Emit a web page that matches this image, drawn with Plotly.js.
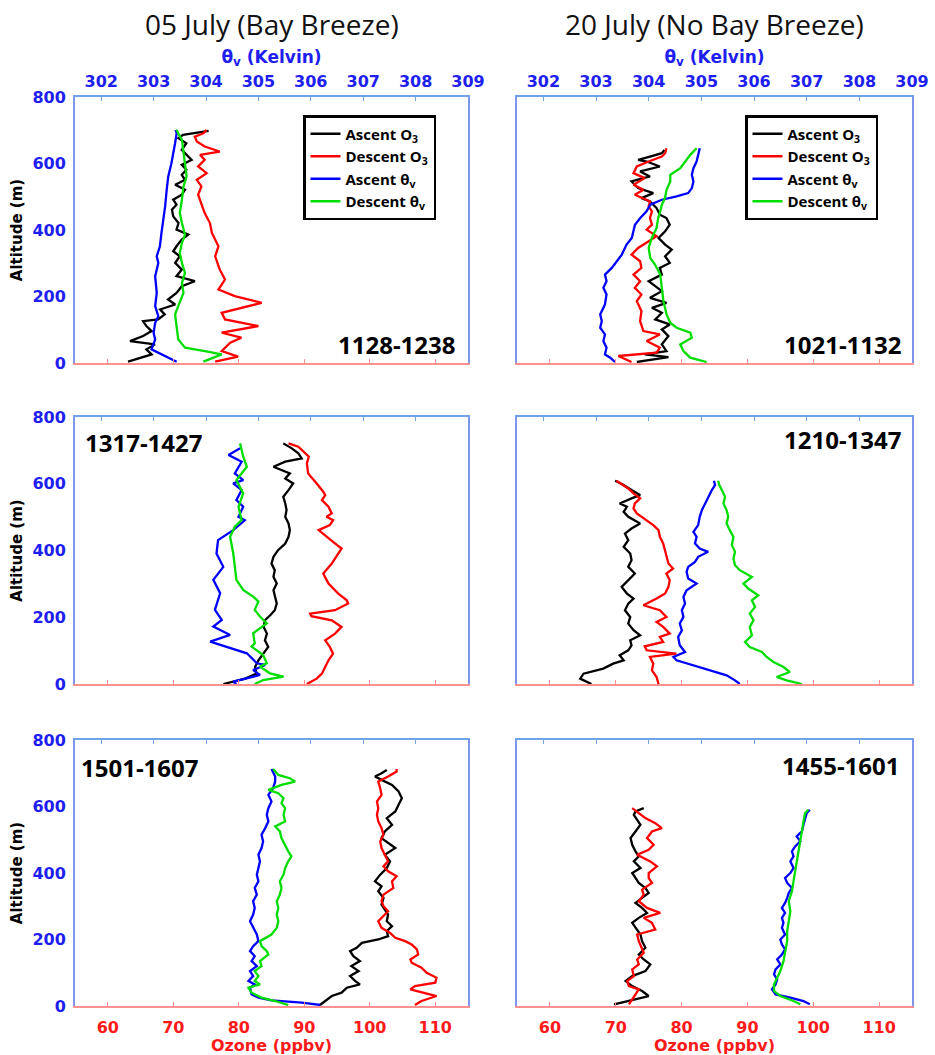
<!DOCTYPE html>
<html>
<head>
<meta charset="utf-8">
<script src="https://cdn.plot.ly/plotly-3.0.1.min.js"></script>
<style>html,body{margin:0;padding:0;background:#fff;}#chart{width:935px;height:1055px;}</style>
</head>
<body>
<div id="chart"></div>
<script>
// ---------------- Column titles / labels ----------------
const columnTitles = ['05 July (Bay Breeze)', '20 July (No Bay Breeze)'];
const flightLabels = ['1128-1238', '1021-1132', '1317-1427', '1210-1347', '1501-1607', '1455-1601'];
const seriesNames = ['Ascent O<sub>3</sub>', 'Descent O<sub>3</sub>', 'Ascent θ<sub>v</sub>', 'Descent θ<sub>v</sub>'];
const ozoneTicks = [60, 70, 80, 90, 100, 110];
const thetaTicks = [302, 303, 304, 305, 306, 307, 308, 309];
const altTicks = [0, 200, 400, 600, 800];

// ---------------- Panel 1: 05 July 1128-1238 ----------------
const tl_ascO3_alt = [4,26,41,56,66,81,96,111,126,131,146,161,176,191,211,231,246,261,281,301,321,336,351,371,386,401,421,441,461,476,491,506,521,536,551,566,581,596,611,631,641,661,676,686,691,698];
const tl_ascO3 = [63.1,66.7,65.9,67.2,63.4,65.4,66.7,65.9,65.4,67.7,68.7,68.0,70.3,69.2,70.5,71.3,73.3,70.5,71.3,70.3,71.0,70.0,70.5,71.3,72.3,70.5,70.8,70.0,69.8,70.5,70.0,71.3,71.8,70.3,71.8,71.3,72.0,71.3,72.8,71.8,71.3,72.0,70.8,71.5,73.3,75.4];
const tl_desO3_alt = [4,19,36,61,76,91,111,131,151,181,201,221,251,281,321,351,391,421,451,481,506,531,551,571,591,611,626,636,651,666,681,691,701];
const tl_desO3 = [76.4,79.9,77.4,78.7,80.4,77.4,83.0,77.9,77.4,83.5,79.4,76.9,77.9,77.1,76.4,76.9,75.9,75.6,74.8,74.3,73.8,74.3,73.6,75.1,73.8,74.8,74.1,77.1,74.8,73.6,73.3,74.6,75.1];
const tl_ascTh_alt = [4,21,41,71,91,121,141,171,211,261,301,321,351,391,431,471,521,561,601,631,661,691,701];
const tl_ascTh = [303.44,303.22,302.96,303.03,303.00,303.03,303.09,303.03,303.06,303.03,303.09,303.06,303.12,303.15,303.19,303.22,303.25,303.28,303.34,303.38,303.41,303.44,303.42];
const tl_desTh_alt = [4,26,36,46,71,111,146,171,211,241,271,301,331,361,386,421,451,491,531,561,601,636,671,691,701];
const tl_desTh = [303.95,304.30,303.98,303.60,303.47,303.44,303.41,303.47,303.57,303.54,303.60,303.54,303.50,303.54,303.60,303.54,303.50,303.54,303.57,303.63,303.60,303.57,303.54,303.47,303.44];

// ---------------- Panel 2: 20 July 1021-1132 ----------------
const tr_ascO3_alt = [3,18,26,36,56,81,101,116,131,151,166,181,196,216,231,246,266,286,301,321,341,356,376,396,416,436,446,466,486,496,511,526,546,561,576,591,606,611,621,631,641];
const tr_ascO3 = [73.2,78.0,74.4,77.7,77.0,78.0,77.0,78.2,76.0,77.0,75.5,77.7,75.2,77.0,76.0,75.0,77.0,76.7,78.2,77.5,78.5,77.5,76.5,77.5,78.2,77.7,76.7,76.2,75.2,73.9,75.7,73.4,72.4,75.2,73.7,76.7,74.7,73.4,75.2,77.0,77.4];
const tr_desO3_alt = [3,21,31,46,66,86,96,126,156,186,206,226,246,266,286,306,326,346,366,381,401,416,436,456,471,486,506,521,536,556,571,591,606,621,631,646];
const tr_desO3 = [72.4,70.4,76.2,76.7,74.7,76.7,74.2,73.7,73.9,73.2,73.9,72.9,73.7,72.7,73.9,73.7,72.4,73.4,75.0,76.2,74.7,75.5,75.2,75.5,75.0,75.2,72.9,74.2,72.7,74.4,72.7,73.2,75.0,77.0,77.5,77.7];
const tr_ascTh_alt = [3,16,26,46,66,86,106,126,146,176,206,226,246,266,286,306,326,356,376,396,416,436,456,476,491,501,511,526,546,566,586,606,626,646];
const tr_ascTh = [303.36,303.27,303.17,303.20,303.14,303.17,303.08,303.11,303.08,303.17,303.20,303.14,303.20,303.17,303.30,303.39,303.49,303.58,303.68,303.71,303.74,303.84,303.96,304.03,304.25,304.53,304.75,304.82,304.85,304.82,304.85,304.91,304.94,304.97];
const tr_desTh_alt = [3,16,36,56,76,91,106,121,146,186,226,266,296,316,346,376,406,436,456,476,496,521,546,566,586,606,626,646];
const tr_desTh = [305.10,304.79,304.66,304.60,304.82,304.79,304.53,304.41,304.34,304.28,304.25,304.22,304.12,304.03,304.00,304.06,304.15,304.18,304.22,304.25,304.31,304.34,304.41,304.41,304.60,304.69,304.79,304.91];

// ---------------- Panel 3: 05 July 1317-1427 ----------------
const ml_ascO3_alt = [0,16,31,51,71,91,111,131,151,171,191,206,221,241,261,281,301,321,341,361,381,401,421,441,461,481,501,521,541,561,581,601,616,631,651,666,676,691,706,721];
const ml_ascO3 = [77.65,81.0,82.7,82.5,83.0,83.8,84.5,84.0,84.3,83.8,84.0,84.8,85.5,85.8,85.5,85.3,85.8,85.3,85.5,85.0,85.3,86.0,87.1,87.6,87.8,87.6,87.1,87.3,87.1,86.8,87.6,88.3,87.1,87.8,85.3,87.1,89.6,89.1,88.1,86.8];
const ml_desO3_alt = [0,16,31,51,71,91,111,131,151,171,191,203,211,221,241,251,271,301,331,361,386,406,426,446,461,476,491,501,511,531,551,566,576,601,631,661,681,711,721];
const ml_desO3 = [90.4,91.9,92.7,93.2,93.7,94.4,93.9,93.2,94.7,95.7,94.2,91.1,90.9,94.7,96.7,96.5,95.2,93.7,92.9,94.2,95.0,95.7,94.4,93.2,92.2,93.9,94.4,93.4,94.2,93.7,92.7,93.2,92.9,91.9,90.6,90.4,90.7,89.1,87.6];
const ml_ascTh_alt = [0,7,27,42,57,62,92,107,127,147,172,192,222,272,312,351,391,431,461,491,501,531,551,581,601,611,631,666,686,706];
const ml_ascTh = [304.58,304.52,305.03,304.90,305.13,304.97,304.78,304.46,304.08,304.46,304.14,304.30,304.17,304.27,304.14,304.33,304.20,304.23,304.52,304.74,304.62,304.71,304.58,304.68,304.52,304.71,304.55,304.68,304.43,304.65];
const ml_desTh_alt = [0,12,22,32,52,62,87,112,122,152,182,202,222,247,262,282,312,351,391,441,471,491,531,571,611,651,681,721];
const ml_desTh = [304.93,305.09,305.48,305.22,305.03,305.16,305.09,304.87,304.93,304.90,305.16,305.03,304.93,305.00,304.90,304.71,304.58,304.55,304.52,304.46,304.55,304.68,304.62,304.71,304.58,304.78,304.71,304.65];

// ---------------- Panel 4: 20 July 1210-1347 ----------------
const mr_ascO3_alt = [0,16,31,46,61,71,86,101,116,131,146,161,181,201,221,241,256,271,291,311,331,351,371,391,411,431,451,466,481,501,516,531,541,556,566,581,596,609];
const mr_ascO3 = [66.3,64.6,65.1,68.1,69.6,71.2,70.6,71.9,72.4,72.2,73.7,72.7,71.9,72.2,71.4,71.9,72.7,71.7,70.9,71.9,72.9,71.9,72.4,72.2,71.2,71.9,71.4,72.4,73.7,71.9,71.2,71.7,70.6,72.4,73.7,72.4,71.2,69.9];
const mr_desO3_alt = [0,21,41,61,81,91,101,113,126,141,151,171,186,201,221,236,256,271,291,311,331,346,361,381,401,421,441,461,476,491,511,526,541,556,571,586,601,609];
const mr_desO3 = [76.5,76.2,75.5,75.7,75.2,79.2,74.7,74.4,77.2,76.7,78.2,77.2,76.2,77.7,76.7,74.2,76.2,77.5,78.0,78.2,77.7,78.7,78.0,77.7,77.5,77.2,76.7,76.5,75.7,74.7,73.2,72.7,72.9,73.7,72.7,71.9,70.6,70.1];
const mr_ascTh_alt = [0,11,26,41,51,61,71,81,96,116,141,161,181,201,221,241,261,281,301,316,336,351,366,381,396,406,421,441,456,476,501,521,541,561,581,596,609];
const mr_ascTh = [305.73,305.64,305.48,305.16,304.91,304.72,304.53,304.47,304.69,304.59,304.56,304.63,304.59,304.66,304.63,304.69,304.66,304.72,304.91,304.75,304.72,304.75,304.88,304.94,305.13,304.97,304.88,304.91,304.85,304.94,304.97,305.01,305.07,305.13,305.20,305.26,305.24];
const mr_desTh_alt = [0,11,21,36,51,66,81,96,111,126,146,171,191,211,231,251,266,286,301,321,341,356,376,396,416,441,461,481,501,521,541,561,581,596,609];
const mr_desTh = [306.91,306.62,306.43,306.68,306.56,306.37,306.24,306.15,305.92,305.83,305.96,305.92,305.99,305.92,306.02,305.96,306.08,305.89,305.80,305.96,305.73,305.64,305.61,305.64,305.58,305.61,305.54,305.48,305.51,305.48,305.42,305.45,305.39,305.34,305.32];

// ---------------- Panel 5: 05 July 1501-1607 ----------------
const bl_ascO3_alt = [3,15,30,40,55,65,75,90,105,120,135,150,165,175,190,200,210,225,240,255,275,290,305,325,345,360,375,395,415,435,455,475,490,505,525,545,565,585,605,625,645,665,680,690,700,710];
const bl_ascO3 = [92.4,93.2,94.2,95.7,96.5,98.5,97.8,97.0,98.3,97.2,98.5,97.5,97.0,98.0,98.8,101.3,102.8,102.6,103.4,102.6,102.8,102.3,101.8,102.1,101.3,101.8,100.8,101.6,102.6,103.1,102.3,103.9,102.8,101.8,102.3,103.4,102.6,103.9,104.4,104.9,104.4,103.4,101.8,100.8,101.8,102.6];
const bl_desO3_alt = [3,15,30,40,50,60,70,85,100,115,130,140,155,170,185,195,205,220,235,255,270,285,300,315,335,355,375,390,405,420,435,455,475,495,515,535,555,575,595,615,635,655,675,690,705,713];
const bl_desO3 = [106.9,107.9,110.2,108.4,106.2,106.9,110.0,110.2,108.7,107.9,106.4,106.2,107.4,107.2,106.4,105.4,103.9,103.1,101.8,101.3,102.1,102.8,102.1,101.8,102.1,103.6,103.4,104.1,102.8,102.1,102.8,102.3,101.8,101.6,102.1,101.8,101.3,101.1,101.3,101.1,101.8,101.6,101.3,102.8,104.1,104.1];
const bl_ascTh_alt = [3,10,17,25,35,55,65,75,90,105,120,135,150,165,180,195,215,235,255,275,295,315,335,355,375,395,415,435,455,475,495,515,535,555,575,595,615,635,655,675,690,705,713];
const bl_ascTh = [306.18,305.83,305.25,305.00,304.87,304.84,304.93,304.81,304.90,304.84,304.97,304.87,304.93,304.84,304.90,305.00,304.97,304.90,304.84,304.90,304.93,304.90,304.97,304.93,305.00,304.97,305.00,305.03,305.00,305.06,305.09,305.06,305.13,305.19,305.16,305.19,305.25,305.19,305.28,305.32,305.32,305.28,305.25];
const bl_desTh_alt = [3,15,25,40,55,65,75,90,105,120,135,155,165,180,195,215,235,255,275,295,315,335,355,375,395,415,435,450,465,485,505,525,540,555,575,595,610,625,640,650,665,675,685,695,705,713];
const bl_desTh = [305.57,305.32,305.06,304.87,304.81,305.03,304.93,305.00,304.93,305.06,305.03,305.19,305.16,305.06,305.03,305.25,305.35,305.38,305.35,305.38,305.35,305.41,305.44,305.41,305.48,305.51,305.57,305.63,305.57,305.51,305.44,305.41,305.32,305.51,305.48,305.51,305.44,305.48,305.38,305.19,305.44,305.70,305.60,305.38,305.32,305.28];

// ---------------- Panel 6: 20 July 1455-1601 ----------------
const br_ascO3_alt = [5,15,30,45,60,75,90,105,125,140,155,175,195,215,235,250,265,280,295,310,325,340,355,370,385,400,415,435,450,465,485,505,525,545,560,575,585,595];
const br_ascO3 = [69.75,72.0,75.0,74.0,72.5,71.5,72.5,74.5,75.25,74.25,73.5,74.5,74.0,73.75,73.0,72.5,73.5,74.75,74.0,73.0,74.0,75.0,74.5,73.5,73.0,72.5,73.75,72.75,73.5,73.0,72.5,72.25,73.0,73.75,73.25,72.75,73.0,74.25];
const br_desO3_alt = [5,20,35,50,60,75,90,110,125,140,160,180,195,215,230,250,265,280,295,315,335,350,370,385,400,420,435,455,470,485,505,525,535,550,565,580,595];
const br_desO3 = [72.0,72.5,73.0,73.5,72.0,71.75,72.75,72.5,73.5,73.25,74.25,73.75,73.5,73.25,76.0,75.5,74.25,76.75,74.75,73.5,74.25,74.0,75.5,75.0,75.0,76.25,75.25,73.25,75.0,75.75,74.75,75.5,77.0,76.0,74.5,73.5,72.5];
const br_ascTh_alt = [5,15,25,35,50,65,80,95,110,125,140,155,170,185,200,215,235,250,265,280,295,310,325,340,355,370,385,400,415,435,450,465,480,495,510,525,545,565,580,590];
const br_ascTh = [307.06,306.94,306.69,306.41,306.34,306.41,306.44,306.38,306.41,306.50,306.44,306.53,306.59,306.53,306.50,306.59,306.53,306.56,306.53,306.59,306.53,306.59,306.63,306.66,306.72,306.63,306.59,306.69,306.75,306.69,306.75,306.72,306.78,306.88,306.81,306.91,306.94,306.97,307.00,307.06];
const br_desTh_alt = [5,15,30,45,65,85,105,135,165,195,225,255,285,315,345,375,405,435,465,495,525,555,580,590];
const br_desTh = [306.88,306.75,306.50,306.38,306.38,306.44,306.50,306.56,306.59,306.63,306.63,306.66,306.69,306.66,306.72,306.75,306.78,306.81,306.84,306.88,306.91,306.94,306.97,307.03];

// ---------------- Assemble ----------------
const panelData = [
  [[tl_ascO3, tl_ascO3_alt], [tl_desO3, tl_desO3_alt], [tl_ascTh, tl_ascTh_alt], [tl_desTh, tl_desTh_alt]],
  [[tr_ascO3, tr_ascO3_alt], [tr_desO3, tr_desO3_alt], [tr_ascTh, tr_ascTh_alt], [tr_desTh, tr_desTh_alt]],
  [[ml_ascO3, ml_ascO3_alt], [ml_desO3, ml_desO3_alt], [ml_ascTh, ml_ascTh_alt], [ml_desTh, ml_desTh_alt]],
  [[mr_ascO3, mr_ascO3_alt], [mr_desO3, mr_desO3_alt], [mr_ascTh, mr_ascTh_alt], [mr_desTh, mr_desTh_alt]],
  [[bl_ascO3, bl_ascO3_alt], [bl_desO3, bl_desO3_alt], [bl_ascTh, bl_ascTh_alt], [bl_desTh, bl_desTh_alt]],
  [[br_ascO3, br_ascO3_alt], [br_desO3, br_desO3_alt], [br_ascTh, br_ascTh_alt], [br_desTh, br_desTh_alt]]
];

const W = 935, H = 1055;
const colPx = [[75, 468], [517, 912]];
const rowPx = [[97, 363], [417, 684], [740, 1006]];
const seriesColors = ['#000000', '#ff0000', '#0000ff', '#00dd00'];
const lineBlue = '#6fa3e6', lineLeft = '#7f95ec', lineRed = '#ff9090';
const tickBlue = '#1e1ef0', tickRed = '#ff1a1a';

const xid = n => n === 1 ? 'x' : 'x' + n;
const yid = n => n === 1 ? 'y' : 'y' + n;
const xkey = n => n === 1 ? 'xaxis' : 'xaxis' + n;
const ykey = n => n === 1 ? 'yaxis' : 'yaxis' + n;

const layout = {
  width: W, height: H,
  margin: {l: 0, r: 0, t: 0, b: 0},
  paper_bgcolor: '#ffffff', plot_bgcolor: 'rgba(0,0,0,0)',
  showlegend: true,
  annotations: [],
  font: {family: 'DejaVu Sans'}
};
const traces = [];

// label placement per panel: [x domain, y domain, xanchor]
const labelPos = [[0.975, 0.07, 'right'], [0.98, 0.07, 'right'], [0.02, 0.905, 'left'], [0.98, 0.915, 'right'], [0.01, 0.895, 'left'], [0.975, 0.905, 'right']];

for (let i = 1; i <= 6; i++) {
  const row = Math.floor((i - 1) / 2), col = (i - 1) % 2;
  const oz = 2 * i - 1, th = 2 * i;
  const xd = [colPx[col][0] / W, colPx[col][1] / W];
  const yd = [1 - rowPx[row][1] / H, 1 - rowPx[row][0] / H];

  const ozAxis = {
    domain: xd, anchor: yid(i), range: [55, 115], tickvals: ozoneTicks,
    ticks: 'inside', ticklen: 4, tickcolor: lineRed, tickwidth: 1,
    showline: true, linecolor: lineRed, linewidth: 2, mirror: false,
    showgrid: false, zeroline: false, fixedrange: true,
    showticklabels: row === 2, ticklabelstandoff: 6,
    tickfont: {family: 'DejaVu Sans', size: 16, color: tickRed, weight: 'bold'}
  };
  if (row === 2) ozAxis.title = {text: 'Ozone (ppbv)', standoff: 2, font: {family: 'DejaVu Sans', size: 16, color: tickRed, weight: 'bold'}};
  layout[xkey(oz)] = ozAxis;

  const thAxis = {
    overlaying: xid(oz), anchor: yid(i), side: 'top', range: [301.5, 309], tickvals: thetaTicks,
    ticks: 'inside', ticklen: 4, tickcolor: lineBlue, tickwidth: 1,
    showline: true, linecolor: lineBlue, linewidth: 2,
    showgrid: false, zeroline: false, fixedrange: true,
    showticklabels: row === 0, ticklabelstandoff: 2,
    tickfont: {family: 'DejaVu Sans', size: 16, color: tickBlue, weight: 'bold'}
  };
  if (row === 0) thAxis.title = {text: 'θ<sub>v</sub> (Kelvin)', standoff: 4, font: {family: 'DejaVu Sans', size: 17, color: tickBlue, weight: 'bold'}};
  layout[xkey(th)] = thAxis;

  const yAxis = {
    domain: yd, anchor: xid(oz), range: [0, 800], tickvals: altTicks,
    ticks: '', showline: true, mirror: true, linecolor: lineLeft, linewidth: 2,
    showgrid: false, zeroline: false, fixedrange: true,
    showticklabels: col === 0, ticklabelstandoff: 4,
    tickfont: {family: 'DejaVu Sans', size: 16, color: tickBlue, weight: 'bold'}
  };
  if (col === 0) yAxis.title = {text: 'Altitude (m)', standoff: 6, font: {family: 'DejaVu Sans', size: 15, color: '#000000', weight: 'bold'}};
  layout[ykey(i)] = yAxis;

  panelData[i - 1].forEach((s, k) => {
    traces.push({
      type: 'scatter', mode: 'lines',
      x: s[0], y: s[1],
      xaxis: k < 2 ? xid(oz) : xid(th), yaxis: yid(i),
      name: seriesNames[k],
      line: {color: seriesColors[k], width: 2.3},
      showlegend: row === 0,
      legend: col === 0 ? 'legend' : 'legend2',
      hoverinfo: 'skip'
    });
  });

  const lp = labelPos[i - 1];
  layout.annotations.push({
    xref: xid(oz) + ' domain', yref: yid(i) + ' domain', x: lp[0], y: lp[1],
    xanchor: lp[2], yanchor: 'middle', showarrow: false, text: flightLabels[i - 1],
    font: {family: 'Open Sans', size: 24, color: '#000000', weight: 'bold'}
  });
}

columnTitles.forEach((t, c) => {
  layout.annotations.push({
    xref: 'paper', yref: 'paper', x: (colPx[c][0] + colPx[c][1]) / 2 / W, y: 1 - 24 / H,
    xanchor: 'center', yanchor: 'middle', showarrow: false, text: t,
    font: {family: 'Open Sans', size: 28, color: '#111111'}
  });
});

const legendStyle = {
  xanchor: 'left', yanchor: 'top', bgcolor: '#ffffff', bordercolor: '#000000', borderwidth: 2.5,
  font: {family: 'Open Sans', size: 15, color: '#000000', weight: 'bold'},
  itemwidth: 30, tracegroupgap: 0, itemclick: false, itemdoubleclick: false
};
layout.legend = Object.assign({}, legendStyle, {x: 303 / W, y: 1 - 115 / H});
layout.legend2 = Object.assign({}, legendStyle, {x: 745 / W, y: 1 - 115 / H});

Plotly.newPlot('chart', traces, layout, {displayModeBar: false, staticPlot: true});
</script>
</body>
</html>
